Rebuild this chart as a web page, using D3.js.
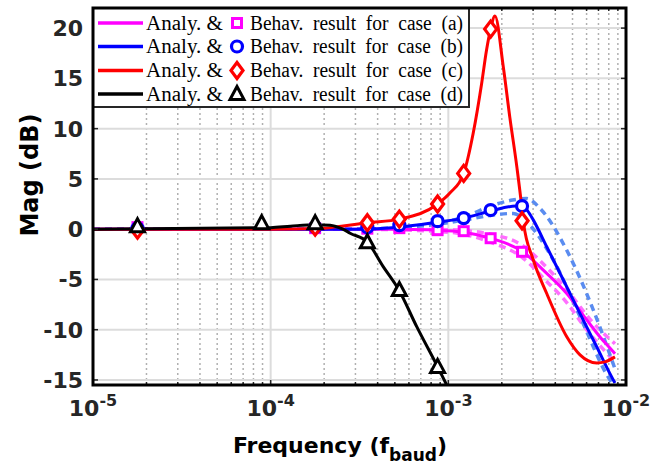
<!DOCTYPE html>
<html><head><meta charset="utf-8">
<script src="https://cdn.jsdelivr.net/npm/d3@7"></script>
<style>body{margin:0;background:#fff}svg{display:block}</style>
</head><body>
<svg id="c" width="652" height="468"></svg>
<script>
// ---------- data ----------
const xTicks = [1e-5, 1e-4, 1e-3, 1e-2];
const xTickExp = ["-5", "-4", "-3", "-2"];
const yTicks = [-15, -10, -5, 0, 5, 10, 15, 20];

const legendLabels = ["(a)", "(b)", "(c)", "(d)"];

// analytical curves (freq in f_baud, mag in dB)
const aFreq = [1e-5, 1e-4, 3e-4, 5.3e-4, 8.7e-4, 1.22e-3, 1.73e-3, 2.6e-3, 3.58e-3, 4.64e-3, 6.0e-3, 7.2e-3, 8.48e-3, 8.67e-3];
const aMag  = [0, 0, 0, -0.02, -0.1, -0.3, -0.9, -2.2, -4.4, -6.4, -9.0, -10.8, -12.2, -12.4];
const aHiFreq = [1e-5, 3e-4, 1e-3, 1.73e-3, 2.6e-3, 3.58e-3, 4.64e-3, 6.3e-3, 8.67e-3];
const aHiMag  = [0, 0, -0.05, -0.5, -1.6, -3.8, -6.0, -9.0, -11.4];
const aLoFreq = [1e-5, 3e-4, 1e-3, 1.73e-3, 2.6e-3, 3.58e-3, 4.64e-3, 6.0e-3, 8.67e-3];
const aLoMag  = [0, 0, -0.3, -1.3, -2.8, -5.2, -7.3, -10.0, -13.2];

const bFreq = [1e-5, 1e-4, 3e-4, 5.3e-4, 8.7e-4, 1.22e-3, 1.73e-3, 2.4e-3, 2.6e-3, 2.8e-3, 3.01e-3, 3.58e-3, 4.44e-3, 5.51e-3, 6.84e-3, 8.48e-3, 8.67e-3];
const bMag  = [0, 0, 0, 0.2, 0.7, 1.1, 1.8, 2.3, 2.3, 1.8, 0.9, -1.75, -5.06, -8.4, -11.7, -15.0, -15.3];
const bHiFreq = [1e-5, 3e-4, 8.7e-4, 1.22e-3, 1.79e-3, 2.3e-3, 2.75e-3, 3.28e-3, 4.64e-3, 6.55e-3, 8.67e-3];
const bHiMag  = [0, 0, 0.6, 1.2, 2.4, 2.9, 3.06, 2.07, -2.1, -8.05, -13.9];
const bLoFreq = [1e-5, 3e-4, 8.7e-4, 1.22e-3, 1.79e-3, 2.32e-3, 2.75e-3, 3.9e-3, 5.51e-3, 8.13e-3, 8.6e-3];
const bLoMag  = [0, 0, 0.5, 0.9, 1.4, 1.57, 0.74, -3.07, -8.7, -15.0, -15.6];

const cFreq = [1e-5, 1e-4, 2e-4, 2.5e-4, 3.5e-4, 5.3e-4, 8.7e-4, 1.02e-3, 1.22e-3, 1.38e-3, 1.54e-3, 1.64e-3, 1.73e-3, 1.83e-3, 2.04e-3, 2.22e-3, 2.43e-3, 2.59e-3, 2.64e-3, 3.01e-3, 3.58e-3, 4.64e-3, 5.51e-3, 6.84e-3, 7.6e-3, 8.67e-3];
const cMag  = [0, 0, 0.1, 0.3, 0.64, 1.0, 2.5, 3.6, 5.55, 9.55, 14.5, 17.8, 19.9, 21.2, 16.1, 11.1, 6.2, 2.2, 0.8, -3.07, -6.4, -10.7, -12.5, -13.3, -13.2, -12.7];

const dFreq = [1e-5, 1e-4, 1.29e-4, 1.78e-4, 2.16e-4, 2.55e-4, 2.8e-4, 3.51e-4, 4.29e-4, 5.27e-4, 6.64e-4, 8.71e-4, 9.79e-4];
const dMag  = [0, 0.15, 0.3, 0.45, 0.4, 0.0, -0.4, -1.3, -3.7, -6.05, -9.7, -13.7, -15.5];

// behavioural results (markers)
const mFreqABC = [1.78e-5, 1.78e-4, 3.5e-4, 5.3e-4, 8.7e-4, 1.22e-3, 1.73e-3, 2.6e-3];
const aMk = [0.2, 0.1, 0.05, 0.1, -0.1, -0.2, -0.9, -2.25];
const bMk = [0.1, 0.2, 0.2, 0.4, 0.8, 1.1, 1.9, 2.3];
const cMk = [-0.1, 0.2, 0.64, 1.0, 2.5, 5.55, 19.9, 0.84];
const mFreqD = [1.78e-5, 8.9e-5, 1.78e-4, 3.5e-4, 5.3e-4, 8.7e-4];
const dMk = [0.3, 0.6, 0.6, -1.3, -6.05, -13.7];

// ---------- layout ----------
const L = 93, R = 626, T = 8, B = 385;
const svg = d3.select("#c");
const x = d3.scaleLog().domain([1e-5, 1e-2]).range([L, R]);
const y = d3.scaleLinear().domain([-15.5, 22]).range([B, T]);

const clipId = "pc";
svg.append("clipPath").attr("id", clipId).append("rect")
  .attr("x", L).attr("y", T).attr("width", R - L).attr("height", B - T);

// grid
const g = svg.append("g");
const minorX = [];
for (let e = -5; e < -2; e++) for (let m = 2; m <= 9; m++) minorX.push(m * Math.pow(10, e));
g.selectAll(".mx").data(minorX).join("line")
  .attr("x1", d => x(d)).attr("x2", d => x(d)).attr("y1", T).attr("y2", B)
  .attr("stroke", "#b0b0b0").attr("stroke-width", 1.5).attr("stroke-dasharray", "2,3");
g.selectAll(".My").data(yTicks).join("line")
  .attr("x1", L).attr("x2", R).attr("y1", d => y(d)).attr("y2", d => y(d))
  .attr("stroke", "#dcdcdc").attr("stroke-width", 2);
g.selectAll(".Mx").data(xTicks).join("line")
  .attr("x1", d => x(d)).attr("x2", d => x(d)).attr("y1", T).attr("y2", B)
  .attr("stroke", "#dcdcdc").attr("stroke-width", 2);

const plot = svg.append("g").attr("clip-path", `url(#${clipId})`);
const line = d3.line().x(d => x(d[0])).y(d => y(d[1])).curve(d3.curveMonotoneX);
const zip = (f, m) => f.map((v, i) => [v, m[i]]);

function drawLine(f, m, color, w, dash) {
  plot.append("path").datum(zip(f, m)).attr("d", line)
    .attr("fill", "none").attr("stroke", color).attr("stroke-width", w)
    .attr("stroke-dasharray", dash || null).attr("stroke-linejoin", "round");
}
const lightMag = "#ff6eff", lightBlue = "#5a8cf0";
drawLine(aHiFreq, aHiMag, lightMag, 3.5, "7,5");
drawLine(aLoFreq, aLoMag, lightMag, 3.5, "7,5");
drawLine(bHiFreq, bHiMag, lightBlue, 3.5, "7,5");
drawLine(bLoFreq, bLoMag, lightBlue, 3.5, "7,5");
drawLine(aFreq, aMag, "#ff00ff", 3);
drawLine(bFreq, bMag, "#0000ff", 3);
drawLine(cFreq, cMag, "#ff0000", 3);
drawLine(dFreq, dMag, "#000000", 3);

// marker shapes
function marker(sel, type, color) {
  if (type === "sq") sel.append("rect").attr("x", -4.5).attr("y", -4.5).attr("width", 9).attr("height", 9)
    .attr("fill", "#fff").attr("stroke", color).attr("stroke-width", 3);
  if (type === "ci") sel.append("circle").attr("r", 5.5)
    .attr("fill", "#fff").attr("stroke", color).attr("stroke-width", 3.2);
  if (type === "di") sel.append("path").attr("d", "M0,-8L6,0L0,8L-6,0Z")
    .attr("fill", "#fff").attr("stroke", color).attr("stroke-width", 3.2);
  if (type === "tr") sel.append("path").attr("d", "M0,-7.5L7,5.5L-7,5.5Z")
    .attr("fill", "#fff").attr("stroke", color).attr("stroke-width", 3).attr("stroke-linejoin", "miter");
}
function drawMarkers(f, m, type, color) {
  zip(f, m).forEach(p => {
    const s = plot.append("g").attr("transform", `translate(${x(p[0])},${y(p[1])})`);
    marker(s, type, color);
  });
}
drawMarkers(mFreqABC, aMk, "sq", "#ff00ff");
drawMarkers(mFreqABC, bMk, "ci", "#0000ff");
drawMarkers(mFreqABC, cMk, "di", "#ff0000");
drawMarkers(mFreqD, dMk, "tr", "#000000");

// ticks (inside, all sides)
const ax = svg.append("g").attr("stroke", "#262626").attr("stroke-width", 1.5);
xTicks.forEach(t => {
  ax.append("line").attr("x1", x(t)).attr("x2", x(t)).attr("y1", B).attr("y2", B - 5);
  ax.append("line").attr("x1", x(t)).attr("x2", x(t)).attr("y1", T).attr("y2", T + 5);
});
minorX.forEach(t => {
  ax.append("line").attr("x1", x(t)).attr("x2", x(t)).attr("y1", B).attr("y2", B - 3);
  ax.append("line").attr("x1", x(t)).attr("x2", x(t)).attr("y1", T).attr("y2", T + 3);
});
yTicks.forEach(t => {
  ax.append("line").attr("x1", L).attr("x2", L + 5).attr("y1", y(t)).attr("y2", y(t));
  ax.append("line").attr("x1", R).attr("x2", R - 5).attr("y1", y(t)).attr("y2", y(t));
});

// legend
const lg = svg.append("g");
lg.append("rect").attr("x", L).attr("y", T).attr("width", 376).attr("height", 99)
  .attr("fill", "#fff").attr("stroke", "#262626").attr("stroke-width", 2);
const legColors = ["#ff00ff", "#0000ff", "#ff0000", "#000000"];
const legTypes = ["sq", "ci", "di", "tr"];
const rowY = [23, 46.5, 70.5, 94];
const serif = "'Liberation Serif', 'Times New Roman', serif";
legendLabels.forEach((lab, i) => {
  const yy = rowY[i];
  lg.append("line").attr("x1", 98).attr("x2", 143).attr("y1", yy).attr("y2", yy)
    .attr("stroke", legColors[i]).attr("stroke-width", 3.5);
  lg.append("text").attr("x", 146).attr("y", yy + 6.5).text("Analy. &")
    .attr("font-family", serif).attr("font-size", 20).attr("fill", "#000")
    .attr("textLength", 77).attr("lengthAdjust", "spacingAndGlyphs");
  const m = lg.append("g").attr("transform", `translate(237,${yy})`);
  marker(m, legTypes[i], legColors[i]);
  lg.append("text").attr("x", 250).attr("y", yy + 6.5).text("Behav.  result  for  case  " + lab)
    .attr("font-family", serif).attr("font-size", 20).attr("fill", "#000")
    .attr("textLength", 213).attr("lengthAdjust", "spacingAndGlyphs").attr("xml:space", "preserve");
});

// frame
svg.append("rect").attr("x", L).attr("y", T).attr("width", R - L).attr("height", B - T)
  .attr("fill", "none").attr("stroke", "#000").attr("stroke-width", 3);

// tick labels
const font = "'DejaVu Sans', sans-serif";
svg.append("g").selectAll("text").data(yTicks).join("text")
  .attr("x", 83).attr("y", d => y(d) + 8).attr("text-anchor", "end")
  .attr("font-family", font).attr("font-weight", "bold").attr("font-size", 22).attr("fill", "#262626")
  .text(d => d);
xTicks.forEach((t, i) => {
  const tx = svg.append("text").attr("x", x(t)).attr("y", 416).attr("text-anchor", "middle")
    .attr("font-family", font).attr("font-weight", "bold").attr("font-size", 22).attr("fill", "#262626");
  tx.append("tspan").text("10");
  tx.append("tspan").attr("dy", -10).attr("font-size", 16).text(xTickExp[i]);
});

// axis titles
const xl = svg.append("text").attr("x", 340).attr("y", 453).attr("text-anchor", "middle")
  .attr("font-family", font).attr("font-weight", "bold").attr("font-size", 22).attr("fill", "#000");
xl.append("tspan").text("Frequency (f");
xl.append("tspan").attr("dy", 8).attr("font-size", 17).text("baud");
xl.append("tspan").attr("dy", -8).text(")");

svg.append("text").attr("transform", "translate(38,175) rotate(-90)").attr("text-anchor", "middle")
  .attr("font-family", font).attr("font-weight", "bold").attr("font-size", 24).attr("fill", "#000")
  .text("Mag (dB)");
</script>
</body></html>
